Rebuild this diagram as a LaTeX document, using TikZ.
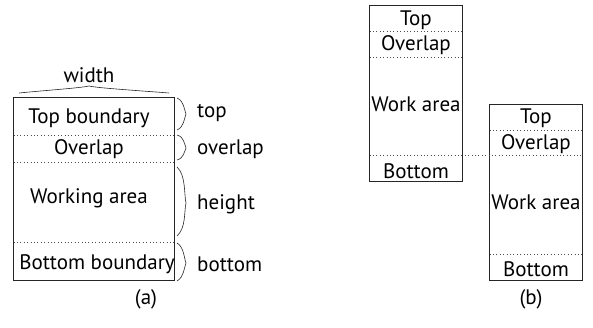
\documentclass[tikz,border=0pt]{standalone}
\usepackage{fontspec}
\setmainfont{PT Sans}
\begin{document}
\begin{tikzpicture}[x=1pt,y=-1pt,
  frame/.style={draw=black!85,line width=0.7pt},
  sep/.style={draw=black!70,line width=0.8pt,dash pattern=on 0.8pt off 2.6pt},
  brc/.style={draw=black!85,line width=0.6pt},
  lbl/.style={font=\fontsize{21}{24}\selectfont,inner sep=0pt},
  side/.style={font=\fontsize{21}{24}\selectfont,inner sep=0pt,anchor=west}]
\useasboundingbox (0,0) rectangle (593,328);
% (a)
\draw[frame] (13.5,97.5) rectangle (174,280);
\draw[sep] (13.5,135) -- (174,135);
\draw[sep] (13.5,162) -- (174,162);
\draw[sep] (13.5,242.5) -- (174,242.5);
\node[lbl] (tb) at (89,118) {Top boundary};
\node[lbl] (ov) at (89,149) {Overlap};
\node[lbl] (wa) at (89,198) {Working area};
\node[lbl] (bb) at (97,264) {Bottom boundary};
\node[lbl] (w) at (89,75) {width};
\draw[brc] (19,93) .. controls (50,90) and (80,88) .. (89,86) .. controls (98,88) and (130,90) .. (169,93);
\draw[brc] (177,98) .. controls (184,101) and (184,109) .. (186,114) .. controls (184,119) and (184,127) .. (177,130);
\draw[brc] (177,135) .. controls (184,137) and (184,143) .. (186,148) .. controls (184,152) and (184,158) .. (177,160);
\draw[brc] (177,167) .. controls (186,175) and (184,195) .. (186,203) .. controls (184,212) and (186,228) .. (177,236);
\draw[brc] (177,243) .. controls (184,247) and (184,258) .. (186,263) .. controls (184,268) and (184,277) .. (177,281);
\node[side] (lt) at (197,113) {top};
\node[side] (lo) at (197,149) {overlap};
\node[side] (lh) at (197,204) {height};
\node[side] (lb) at (197,264) {bottom};
\node[lbl] (ca) at (146,299) {(a)};
% (b)
\draw[frame] (369.5,5) rectangle (462.5,181.5);
\draw[sep] (369.5,31) -- (462.5,31);
\draw[sep] (369.5,57.5) -- (462.5,57.5);
\draw[frame] (489.5,104) rectangle (582.5,280);
\draw[sep] (489.5,130) -- (582.5,130);
\draw[sep] (369.5,155.5) -- (582.5,155.5);
\draw[sep] (489.5,254) -- (582.5,254);
\node[lbl] (t1) at (416,20) {Top};
\node[lbl] (o1) at (416,45) {Overlap};
\node[lbl] (w1) at (416,104) {Work area};
\node[lbl] (b1) at (416,171) {Bottom};
\node[lbl] (t2) at (536,118) {Top};
\node[lbl] (o2) at (536,144) {Overlap};
\node[lbl] (w2) at (536,202) {Work area};
\node[lbl] (b2) at (536,269) {Bottom};
\node[lbl] (cb) at (531,299) {(b)};
\end{tikzpicture}
\end{document}
